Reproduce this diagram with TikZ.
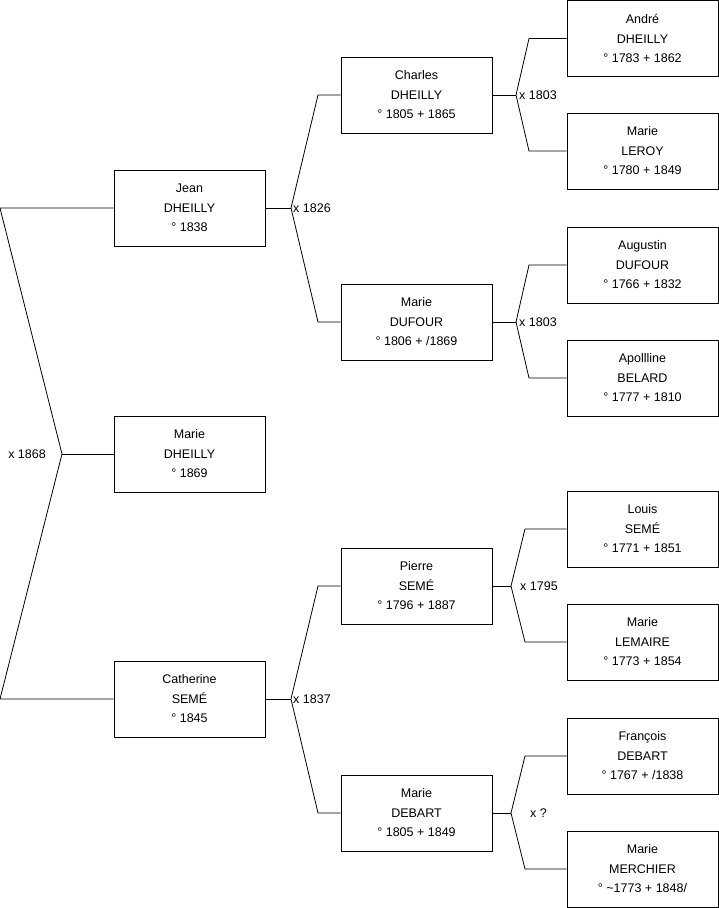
\documentclass[tikz,border=0pt]{standalone}
\usepackage{fontspec}
\setmainfont{Liberation Sans}
\usetikzlibrary{positioning}

\begin{document}
\begin{tikzpicture}[x=1pt, y=-1pt,
    person/.style={draw, rectangle, line width=0.8pt, minimum width=151pt,
        minimum height=76pt, inner sep=0pt, align=center,
        font=\fontsize{12.5}{19.5}\selectfont},
    link/.style={line width=0.8pt},
    union/.style={inner sep=1pt, font=\fontsize{12.5}{14}\selectfont}]

    \useasboundingbox (0,0) rectangle (719,908);

    % Generation 1
    \node[person] (jean)      at (189.5,208) {Jean\\DHEILLY\\° 1838};
    \node[person] (marie)     at (189.5,454) {Marie\\DHEILLY\\° 1869};
    \node[person] (catherine) at (189.5,699) {Catherine\\SEMÉ\\° 1845};

    % Generation 2
    \node[person] (charles) at (416.5,95)  {Charles\\DHEILLY\\° 1805 + 1865};
    \node[person] (dufour)  at (416.5,322) {Marie\\DUFOUR\\° 1806 + /1869};
    \node[person] (pierre)  at (416.5,586) {Pierre\\SEMÉ\\° 1796 + 1887};
    \node[person] (debart)  at (416.5,813) {Marie\\DEBART\\° 1805 + 1849};

    % Generation 3
    \node[person] (andre)     at (642.5,38.5) {André\\DHEILLY\\° 1783 + 1862};
    \node[person] (leroy)     at (642.5,151)  {Marie\\LEROY\\° 1780 + 1849};
    \node[person] (augustin)  at (642.5,265)  {Augustin\\DUFOUR\\° 1766 + 1832};
    \node[person] (belard)    at (642.5,378)  {Apollline\\BELARD\\° 1777 + 1810};
    \node[person] (louis)     at (642.5,529)  {Louis\\SEMÉ\\° 1771 + 1851};
    \node[person] (lemaire)   at (642.5,642)  {Marie\\LEMAIRE\\° 1773 + 1854};
    \node[person] (francois)  at (642.5,756)  {François\\DEBART\\° 1767 + /1838};
    \node[person] (merchier)  at (642.5,869)  {Marie\\MERCHIER\\° \textasciitilde1773 + 1848/};

    % Parents of Marie
    \coordinate (m0) at (62,454);
    \coordinate (m0-up) at (0,208);
    \coordinate (m0-down) at (0,699);
    \draw[link] (jean.west) -- (m0-up) -- (m0) -- (m0-down) -- (catherine.west);
    \draw[link] (m0) -- (marie.west);
    \node[union, anchor=east] (w0) at ([xshift=-15pt]m0) {x 1868};

    % Parents of Jean and Catherine
    \foreach \child/\dad/\mum/\y/\year in {jean/charles/dufour/208/1826,
                                           catherine/pierre/debart/699/1837} {
        \coordinate (j-\child) at (291,\y);
        \draw[link] (\child.east) -- (j-\child);
        \draw[link] (\dad.west) -- (\dad.west -| 318,0) -- (j-\child)
            -- (\mum.west -| 318,0) -- (\mum.west);
        \node[union, anchor=west] (w-\child) at ([xshift=1pt]j-\child) {x \year};
    }

    % Grandparents
    \foreach \child/\dad/\mum/\jx/\cx/\lx/\year in {
            charles/andre/leroy/516/529/2/1803,
            dufour/augustin/belard/516/529/2/1803,
            pierre/louis/lemaire/511/525/8/1795,
            debart/francois/merchier/511/525/18/?} {
        \coordinate (j-\child) at (\child.east -| \jx,0);
        \draw[link] (\child.east) -- (j-\child);
        \draw[link] (\dad.west) -- (\dad.west -| \cx,0) -- (j-\child)
            -- (\mum.west -| \cx,0) -- (\mum.west);
        \node[union, anchor=west] (w-\child) at ([xshift=\lx pt]j-\child) {x \year};
    }

\end{tikzpicture}
\end{document}
